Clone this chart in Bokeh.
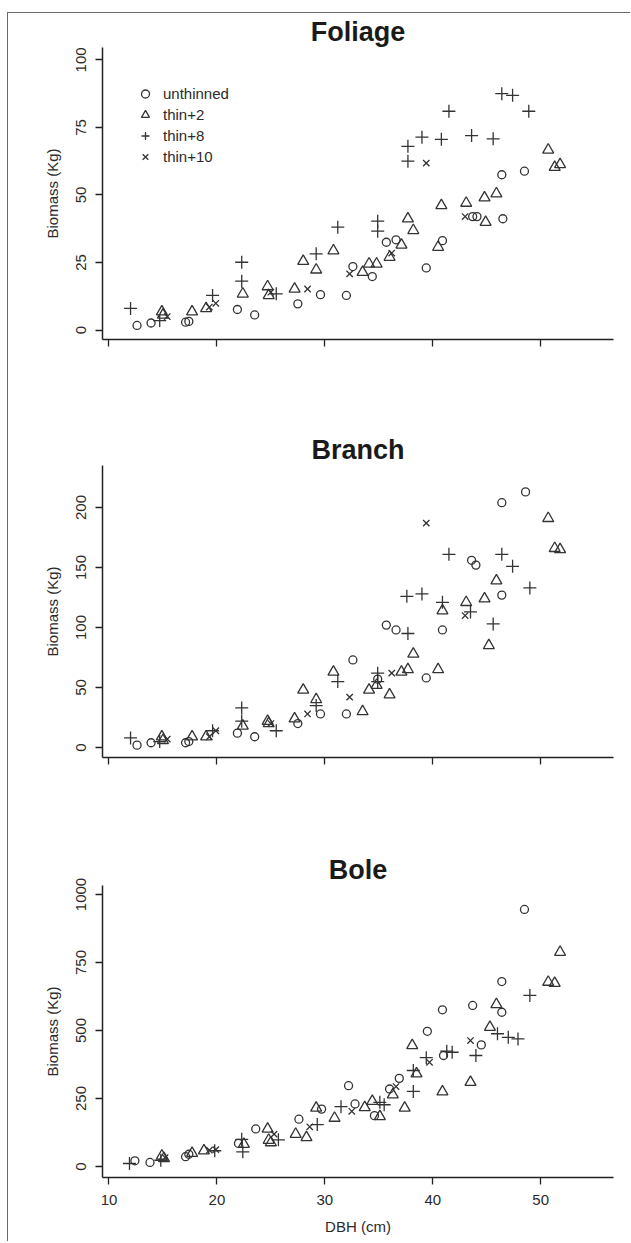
from bokeh.plotting import figure
from bokeh.models import Range1d, FixedTicker, Legend, LegendItem
from bokeh.layouts import column
from bokeh.embed import file_html
from bokeh.resources import INLINE

FONT = "Liberation Sans"
INK = "#2b2b2b"
MARK = "#333333"

groups = ["unthinned", "thin+2", "thin+8", "thin+10"]
x_ticks = [10, 20, 30, 40, 50]

# ---------------- Foliage ----------------
fol_unthinned_dbh = [12.6, 13.9, 17.1, 17.4, 21.9, 23.5, 27.5, 29.6, 32.0, 32.6, 34.4, 35.7, 36.6, 39.4, 40.9, 43.7, 44.1, 46.5, 46.4, 48.5]
fol_unthinned = [1.7, 2.6, 2.9, 3.2, 7.6, 5.6, 9.7, 13.1, 12.8, 23.5, 19.8, 32.5, 33.4, 23.0, 33.1, 42.0, 42.0, 41.2, 57.5, 58.8]
fol_thin2_dbh = [14.9, 15.0, 17.7, 19.0, 22.4, 24.7, 24.8, 27.2, 28.0, 29.2, 30.8, 33.5, 34.1, 34.8, 36.0, 37.1, 37.7, 38.2, 40.5, 40.8, 43.1, 44.8, 44.9, 45.9, 50.7, 51.3, 51.8]
fol_thin2 = [6.8, 5.6, 6.8, 8.0, 13.4, 16.1, 12.8, 15.2, 25.5, 22.3, 29.4, 21.4, 24.5, 24.5, 27.0, 31.5, 41.2, 36.9, 30.7, 46.1, 47.0, 49.0, 39.9, 50.5, 66.7, 60.3, 61.3]
fol_thin8_dbh = [12.0, 14.7, 19.6, 22.3, 22.3, 25.5, 29.2, 31.2, 34.9, 34.9, 37.7, 37.7, 39.0, 40.8, 41.5, 43.6, 45.6, 46.4, 47.4, 48.9]
fol_thin8 = [8.0, 3.5, 12.8, 25.1, 18.1, 13.4, 28.2, 38.1, 40.3, 36.6, 68.0, 62.5, 71.4, 70.6, 81.0, 72.0, 70.8, 87.5, 86.9, 81.0]
fol_thin10_dbh = [15.4, 19.3, 19.9, 25.0, 28.4, 32.3, 36.2, 39.4, 43.0]
fol_thin10 = [5.0, 8.5, 9.9, 14.0, 15.2, 20.8, 28.5, 61.8, 42.0]

# ---------------- Branch ----------------
br_unthinned_dbh = [12.6, 13.9, 17.1, 17.4, 21.9, 23.5, 27.5, 29.6, 32.0, 32.6, 34.9, 35.7, 36.6, 39.4, 40.9, 43.6, 44.0, 46.4, 46.4, 48.6]
br_unthinned = [2, 4, 4, 5, 12, 9, 20, 28, 28, 73, 57, 102, 98, 58, 98, 156, 152, 127, 204, 213]
br_thin2_dbh = [14.9, 15.0, 17.7, 19.0, 22.4, 24.7, 24.8, 27.2, 28.0, 29.2, 30.8, 33.5, 34.1, 34.8, 36.0, 37.1, 37.7, 38.2, 40.5, 40.9, 43.1, 44.8, 45.2, 45.9, 50.7, 51.3, 51.8]
br_thin2 = [9, 6, 9, 9, 18, 22, 20, 24, 48, 40, 63, 30, 48, 52, 44, 63, 65, 78, 65, 114, 121, 124, 85, 139, 191, 166, 165]
br_thin8_dbh = [12.0, 14.7, 19.6, 22.3, 22.3, 25.5, 29.2, 31.2, 34.9, 34.9, 37.6, 37.7, 39.0, 40.9, 41.5, 43.5, 45.6, 46.4, 47.4, 49.0]
br_thin8 = [8, 5, 14, 33, 22, 14, 35, 55, 62, 55, 126, 95, 128, 121, 161, 113, 103, 161, 151, 133]
br_thin10_dbh = [15.4, 19.3, 19.9, 25.0, 28.4, 32.3, 36.2, 39.4, 43.0]
br_thin10 = [7, 9, 14, 20, 28, 42, 62, 187, 110]

# ---------------- Bole ----------------
bo_unthinned_dbh = [12.4, 13.8, 17.1, 17.4, 22.0, 23.6, 27.6, 29.7, 32.2, 32.8, 34.6, 36.0, 36.9, 39.5, 40.9, 41.0, 43.7, 44.5, 46.4, 46.4, 48.5]
bo_unthinned = [21, 15, 36, 45, 85, 138, 174, 211, 297, 230, 187, 285, 324, 497, 576, 408, 592, 447, 567, 680, 945]
bo_thin2_dbh = [14.9, 15.1, 17.7, 18.8, 22.5, 24.7, 24.8, 25.0, 27.3, 28.3, 29.2, 30.9, 33.7, 34.4, 35.1, 36.3, 37.4, 38.1, 38.5, 40.9, 43.5, 45.3, 45.9, 50.7, 51.3, 51.8]
bo_thin2 = [39, 30, 49, 58, 82, 138, 97, 88, 119, 107, 215, 178, 217, 240, 184, 264, 215, 445, 341, 275, 310, 512, 596, 678, 674, 788]
bo_thin8_dbh = [11.9, 14.8, 19.8, 22.3, 22.4, 25.7, 29.3, 31.5, 35.1, 35.5, 38.2, 38.2, 39.4, 41.3, 41.8, 44.0, 46.0, 47.0, 47.9, 49.0]
bo_thin8 = [11, 23, 58, 100, 54, 98, 154, 220, 236, 227, 276, 353, 400, 424, 420, 408, 488, 475, 469, 629]
bo_thin10_dbh = [15.2, 19.3, 19.9, 25.3, 28.6, 32.5, 36.6, 39.7, 43.5]
bo_thin10 = [33, 60, 62, 119, 146, 203, 294, 383, 463]

marker_style = {
    "unthinned": dict(marker="circle", size=8),
    "thin+2": dict(marker="triangle", size=11),
    "thin+8": dict(marker="cross", size=13),
    "thin+10": dict(marker="x", size=9),
}

FIG_W = 622


def make_panel(title, y_range, y_ticks, series, height, top, bottom, show_xlabels, legend):
    p = figure(width=FIG_W, height=height, output_backend="svg", toolbar_location=None,
               x_range=Range1d(9.4, 56.75), y_range=Range1d(*y_range),
               min_border_left=94, min_border_right=FIG_W - 94 - 511,
               min_border_top=top, min_border_bottom=bottom)
    p.title.text = title
    p.title.align = "center"
    p.title.text_font = FONT
    p.title.text_font_size = "27px"
    p.title.text_font_style = "bold"
    p.title.text_color = "#1a1a1a"
    p.title.standoff = 2
    p.grid.visible = False
    p.outline_line_color = None
    p.background_fill_color = "white"
    p.border_fill_color = "white"

    for ax in (p.xaxis[0], p.yaxis[0]):
        ax.axis_line_color = "#222222"
        ax.axis_line_width = 1.5
        ax.major_tick_line_color = "#222222"
        ax.major_tick_line_width = 1.3
        ax.major_tick_out = 7
        ax.major_tick_in = 0
        ax.minor_tick_line_color = None
        ax.major_label_text_font = FONT
        ax.major_label_text_font_size = "15px"
        ax.major_label_text_color = INK
        ax.axis_label_text_font = FONT
        ax.axis_label_text_font_size = "15px"
        ax.axis_label_text_font_style = "normal"
        ax.axis_label_text_color = INK

    p.xaxis.ticker = FixedTicker(ticks=x_ticks)
    p.yaxis.ticker = FixedTicker(ticks=y_ticks)
    p.yaxis.major_label_orientation = "vertical"
    p.yaxis.axis_label = "Biomass (Kg)"
    p.yaxis.major_label_standoff = 9
    p.yaxis.axis_label_standoff = 13
    if show_xlabels:
        p.xaxis.axis_label = "DBH (cm)"
        p.xaxis.major_label_standoff = 10
        p.xaxis.axis_label_standoff = 10
    else:
        p.xaxis.major_label_text_color = None

    items = []
    for g, (xs, ys) in zip(groups, series):
        r = p.scatter(xs, ys, line_color=MARK, fill_color=None, line_width=1.3, **marker_style[g])
        items.append(LegendItem(label=g, renderers=[r]))

    if legend:
        lg = Legend(items=items, location=(33, 172), orientation="vertical",
                    border_line_color=None, background_fill_alpha=0, padding=0, spacing=0,
                    margin=0, glyph_width=20, glyph_height=21, label_height=21,
                    label_standoff=8, label_text_font=FONT, label_text_font_size="15px",
                    label_text_color=INK)
        p.add_layout(lg)
    return p


p1 = make_panel("Foliage", (-3.5, 104.6), [0, 25, 50, 75, 100],
                [(fol_unthinned_dbh, fol_unthinned), (fol_thin2_dbh, fol_thin2),
                 (fol_thin8_dbh, fol_thin8), (fol_thin10_dbh, fol_thin10)],
                413, 34, 87, False, True)
p2 = make_panel("Branch", (-8.3, 235), [0, 50, 100, 150, 200],
                [(br_unthinned_dbh, br_unthinned), (br_thin2_dbh, br_thin2),
                 (br_thin8_dbh, br_thin8), (br_thin10_dbh, br_thin10)],
                418, 39, 87, False, False)
p3 = make_panel("Bole", (-40.4, 1033), [0, 250, 500, 750, 1000],
                [(bo_unthinned_dbh, bo_unthinned), (bo_thin2_dbh, bo_thin2),
                 (bo_thin8_dbh, bo_thin8), (bo_thin10_dbh, bo_thin10)],
                397, 41, 64, True, False)

layout = column(p1, p2, p3, spacing=0,
                styles={"margin-left": "7px", "margin-top": "12px",
                        "border-left": "1px solid #6a6a6a", "border-top": "1px solid #6a6a6a"})

open("out.html", "w").write(file_html(layout, INLINE))
